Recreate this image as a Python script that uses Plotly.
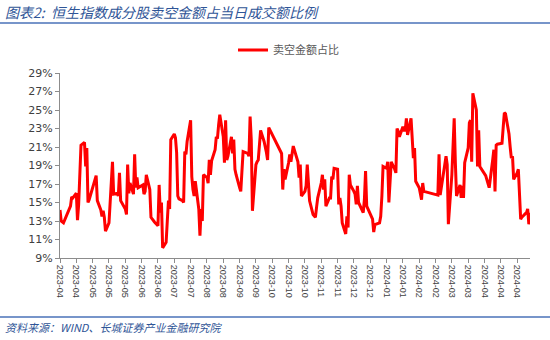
import pandas as pd
import plotly.graph_objects as go

# Short-selling turnover as % of daily turnover, HSI constituents (one value per trading day)
apr_2023 = [14.2, 13.0, 12.8, 14.2, 14.6, 15.6, 15.5, 16.0, 13.1, 14.8, 17.8, 21.2, 21.5, 18.9, 20.9, 15.0, 15.3]
may_2023 = [16.9, 17.4, 17.9, 15.2, 14.2, 13.5, 14.1, 13.4, 11.9, 12.8, 15.0, 16.2, 19.4, 15.9, 16.0, 15.7, 18.2, 15.2, 14.3, 13.7, 19.1]
jun_2023 = [16.0, 17.1, 15.9, 20.2, 16.6, 17.7, 16.6, 16.8, 16.9, 15.9, 16.2, 18.0, 16.4, 13.4, 13.2, 12.9, 12.5, 16.9, 13.9, 15.0, 10.1]
jul_2023 = [10.7, 13.0, 15.2, 14.3, 21.8, 22.4, 22.0, 20.4, 15.7, 15.4, 15.2, 15.0, 20.5, 20.2, 21.6, 23.9, 17.8, 16.4, 15.7, 17.3, 14.3]
aug_2023 = [11.4, 14.3, 13.0, 18.0, 17.7, 17.1, 19.6, 18.0, 19.5, 20.7, 22.1, 21.9, 23.4, 24.5, 22.1, 19.3, 23.9, 19.6, 20.0, 22.1, 20.3, 21.8, 18.6]
sep_2023 = [18.0, 16.6, 16.2, 18.4, 20.5, 20.3, 20.0, 24.3, 21.8, 14.1, 19.1, 19.4, 19.6, 21.2, 22.8, 21.6, 21.1, 20.4, 19.6, 23.1]
oct_2023 = [20.3, 16.4, 18.6, 17.5, 19.3, 20.2, 19.4, 20.3, 21.1, 19.4, 17.7, 19.1, 15.7, 16.2, 16.8]
nov_2023 = [19.1, 17.0, 15.2, 13.7, 13.6, 13.4, 14.5, 15.5, 17.1, 18.0, 16.4, 17.5, 14.6, 15.5, 15.5, 17.8, 17.5, 18.7, 18.6, 14.8, 15.5, 14.6]
dec_2023 = [12.8, 11.6, 13.5, 12.3, 18.0, 16.9, 16.2, 15.9, 14.8, 16.8, 15.0, 14.3, 13.9, 15.3, 18.4, 14.6, 13.2, 11.8, 12.6]
jan_2024 = [12.8, 13.5, 15.7, 18.9, 18.7, 19.4, 15.0, 17.8, 19.4, 18.6, 18.2, 23.0, 22.7, 22.1, 23.2, 22.8, 22.8, 24.1, 22.3, 24.1, 22.1, 19.8]
feb_2024 = [20.9, 17.3, 16.6, 15.9, 15.3, 17.1, 16.2, 15.8, 20.2, 15.8, 18.2, 19.2, 20.0, 19.1]
mar_2024 = [12.65, 18.0, 20.5, 24.1, 19.3, 15.7, 16.9, 15.5, 16.8, 15.5, 19.3, 20.9, 23.6, 23.9, 19.4, 26.8, 25.0, 18.9, 22.8, 18.9]
apr_2024 = [17.9, 17.4, 16.6, 19.6, 20.7, 16.2, 21.2, 21.3, 21.4, 21.4, 23.1, 24.7, 24.6, 22.4, 21.0, 19.8, 20.0, 17.5, 18.2, 18.6]
may_2024 = [13.2, 13.4, 13.8, 13.9, 14.3, 12.65, 13.9]

# Weekdays without a value (exchange holidays and Stock Connect closures)
NO_DATA_DAYS = [
    "2023-04-05", "2023-04-07", "2023-04-10", "2023-05-01", "2023-05-26", "2023-06-22",
    "2023-09-08", "2023-10-02", "2023-10-03", "2023-10-04", "2023-10-05", "2023-10-06",
    "2023-10-09", "2023-10-23", "2023-12-25", "2023-12-26", "2024-01-01",
    "2024-02-12", "2024-02-13", "2024-02-14", "2024-02-15", "2024-02-16", "2024-02-19",
    "2024-02-20", "2024-03-29", "2024-04-01", "2024-04-04", "2024-05-01",
]
START, END = "2023-04-03", "2024-05-10"

SERIES_NAME = "卖空金额占比"
TITLE = "图表2:  恒生指数成分股卖空金额占当日成交额比例"
SOURCE = "资料来源：WIND、长城证券产业金融研究院"
Y_TICKS = list(range(9, 30, 2))

ratio = (apr_2023 + may_2023 + jun_2023 + jul_2023 + aug_2023 + sep_2023 + oct_2023
         + nov_2023 + dec_2023 + jan_2024 + feb_2024 + mar_2024 + apr_2024 + may_2024)
days = pd.bdate_range(START, END, freq="C", holidays=NO_DATA_DAYS)
if len(days) != len(ratio):
    raise ValueError(f"{len(days)} dates vs {len(ratio)} values")

tick_dates = pd.date_range(START, "2024-04-29", freq="14D")
tick_text = [d.strftime("%Y-%m") for d in tick_dates]

W, H = 550, 340
L, R, T, B = 60, 20, 73, 82
PW, PH = W - L - R, H - T - B


def px(x):
    return (x - L) / PW


def py(y):
    return (H - B - y) / PH


BLUE = "#2F5597"
AXIS = "#8C8C8C"
CJK = "Noto Sans CJK SC"

fig = go.Figure()
fig.add_trace(go.Scatter(
    x=days, y=ratio, mode="lines", name=SERIES_NAME,
    line=dict(color="#FF0000", width=3),
))

fig.update_layout(
    width=W, height=H,
    margin=dict(l=L, r=R, t=T, b=B),
    paper_bgcolor="white", plot_bgcolor="white",
    showlegend=True,
    legend=dict(
        orientation="h", x=px(233), xanchor="left", y=py(50), yanchor="middle",
        font=dict(family=CJK, size=11, color="#595959"),
        bgcolor="rgba(0,0,0,0)",
    ),
    xaxis=dict(
        type="date", range=[START, END],
        tickmode="array", tickvals=tick_dates, ticktext=tick_text,
        tickangle=90, tickfont=dict(family="Liberation Sans", size=9, color="#404040"),
        showline=True, linecolor=AXIS, linewidth=1,
        ticks="outside", ticklen=4, tickcolor=AXIS,
        showgrid=False, zeroline=False,
    ),
    yaxis=dict(
        range=[9, 29], tickmode="array", tickvals=Y_TICKS,
        ticktext=[f"{v}%" for v in Y_TICKS],
        tickfont=dict(family="DejaVu Sans", size=11, color="#404040"),
        showline=True, linecolor=AXIS, linewidth=1,
        ticks="outside", ticklen=4, tickcolor=AXIS,
        showgrid=False, zeroline=False,
    ),
)

# header and footer rules
for y in (23, 317):
    fig.add_shape(type="line", xref="paper", yref="paper",
                  x0=px(0), x1=px(W), y0=py(y), y1=py(y),
                  line=dict(color="#4A72B8", width=1.5))

fig.add_annotation(
    text=TITLE, xref="paper", yref="paper", x=px(3), y=py(12),
    xanchor="left", yanchor="middle", showarrow=False,
    font=dict(family=CJK, size=14, color=BLUE, style="italic"),
)
fig.add_annotation(
    text=SOURCE, xref="paper", yref="paper", x=px(3), y=py(327),
    xanchor="left", yanchor="middle", showarrow=False,
    font=dict(family=CJK, size=11, color=BLUE, style="italic"),
)

fig.write_html("out.html")
